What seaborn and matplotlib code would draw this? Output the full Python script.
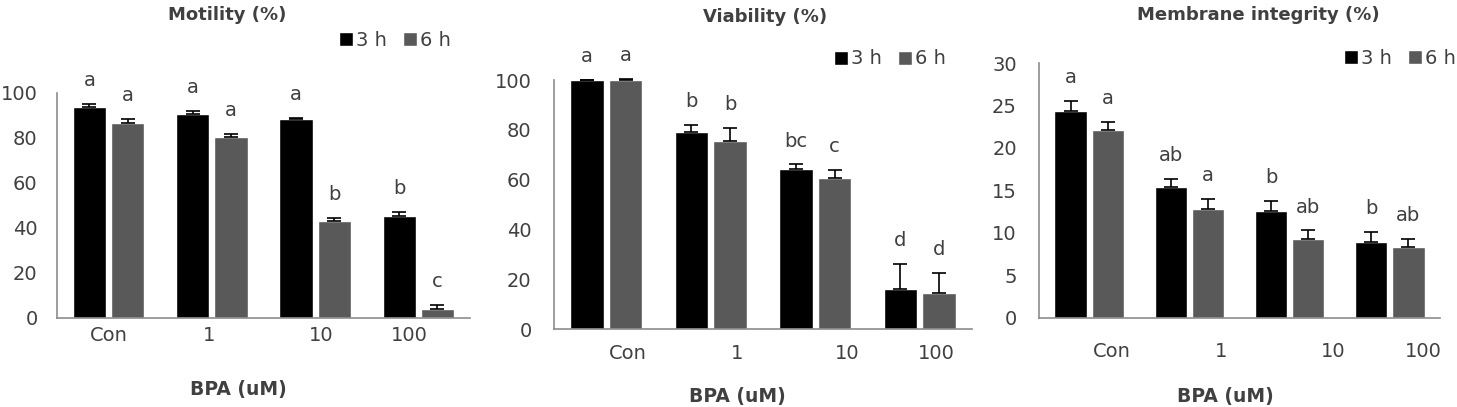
import numpy as np
import pandas as pd
import seaborn as sns
import matplotlib.pyplot as plt

# データ
doses = ["Con", "1", "10", "100"]
times = ["3 h", "6 h"]

motility_3h = [93.8, 90.7, 88.4, 45.5]
motility_6h = [86.7, 80.4, 43.1, 3.8]
motility_err_3h = [1.3, 1.4, 0.6, 1.5]
motility_err_6h = [1.7, 1.5, 1.3, 2.0]
motility_let_3h = ["a", "a", "a", "b"]
motility_let_6h = ["a", "a", "b", "c"]

viability_3h = [100, 79.2, 64.1, 16.1]
viability_6h = [100, 75.5, 60.5, 14.6]
viability_err_3h = [0, 2.7, 2.0, 9.9]
viability_err_6h = [0.3, 5.1, 3.4, 7.8]
viability_let_3h = ["a", "b", "bc", "d"]
viability_let_6h = ["a", "b", "c", "d"]

membrane_3h = [24.4, 15.4, 12.6, 8.9]
membrane_6h = [22.1, 12.8, 9.3, 8.3]
membrane_err_3h = [1.1, 1.0, 1.2, 1.2]
membrane_err_6h = [1.0, 1.2, 1.0, 1.0]
membrane_let_3h = ["a", "ab", "b", "b"]
membrane_let_6h = ["a", "a", "ab", "ab"]

sns.set_style("white")
plt.rcParams['font.family'] = ['DejaVu Sans']
txt = "#404040"
fs = 14

fig = plt.figure(figsize=(14.57, 4.07), dpi=100)

panels = [
    dict(title="Motility (%)", v3=motility_3h, v6=motility_6h, e3=motility_err_3h, e6=motility_err_6h,
         l3=motility_let_3h, l6=motility_let_6h, ymax=100, step=20,
         rect=[0.0391, 0.2187, 0.2835, 0.5528], title_xy=(227, 15), leg_xy=(395, 40),
         tick_off=[0.0, -0.03, 0.06, -0.09], xpad=6, ypad=14, xlab=(0.438, -0.276)),
    dict(title="Viability (%)", v3=viability_3h, v6=viability_6h, e3=viability_err_3h, e6=viability_err_6h,
         l3=viability_let_3h, l6=viability_let_6h, ymax=100, step=20,
         rect=[0.3802, 0.1916, 0.2869, 0.6118], title_xy=(765, 17), leg_xy=(890, 59),
         tick_off=[0.21, 0.25, 0.31, 0.16], xpad=11, ypad=16, xlab=(0.438, -0.233)),
    dict(title="Membrane integrity (%)", v3=membrane_3h, v6=membrane_6h, e3=membrane_err_3h, e6=membrane_err_6h,
         l3=membrane_let_3h, l6=membrane_let_6h, ymax=30, step=5,
         rect=[0.7131, 0.2187, 0.2752, 0.6265], title_xy=(1258, 15), leg_xy=(1400, 58),
         tick_off=[0.23, 0.32, 0.43, 0.33], xpad=17, ypad=16, xlab=(0.464, -0.271)),
]

W, H = 1457, 407
for p in panels:
    ax = fig.add_axes(p["rect"])
    df = pd.DataFrame({
        "dose": doses * 2,
        "time": [times[0]] * 4 + [times[1]] * 4,
        "value": p["v3"] + p["v6"],
    })
    sns.barplot(data=df, x="dose", y="value", hue="time", order=doses, hue_order=times,
                palette=["#000000", "#595959"], width=0.74, gap=0.13, errorbar=None,
                saturation=1, ax=ax)
    # 誤差棒（上側のみ）と有意差の文字
    for cont, err, lets in zip(ax.containers, [p["e3"], p["e6"]], [p["l3"], p["l6"]]):
        xs = [b.get_x() + b.get_width() / 2 for b in cont]
        hs = [b.get_height() for b in cont]
        ax.errorbar(xs, hs, yerr=[np.zeros(len(err)), err], fmt="none", ecolor="black",
                    elinewidth=1.2, capsize=4.7, capthick=1.2, clip_on=False)
        for x, h, e, l in zip(xs, hs, err, lets):
            ax.annotate(l, (x, h + e), xytext=(0, 10), textcoords="offset points",
                        ha="center", va="bottom", fontsize=fs, color=txt, annotation_clip=False)

    handles, labels = ax.get_legend_handles_labels()
    ax.get_legend().remove()
    ax.legend(handles, labels, loc="center", bbox_to_anchor=(p["leg_xy"][0] / W, 1 - p["leg_xy"][1] / H),
              bbox_transform=fig.transFigure, ncol=2, frameon=False, fontsize=fs,
              handlelength=0.75, handleheight=0.75, handletextpad=0.15, columnspacing=0.8,
              labelcolor=txt, borderaxespad=0, borderpad=0)

    ax.set_ylim(0, p["ymax"])
    ax.set_yticks(np.arange(0, p["ymax"] + 1, p["step"]))
    ax.set_xlim(-0.5, 3.5)
    ax.set_xticks(np.arange(4) + np.array(p["tick_off"]))
    ax.set_xticklabels(doses)
    ax.tick_params(axis="x", length=0, pad=p["xpad"], labelsize=fs, labelcolor=txt)
    ax.tick_params(axis="y", length=0, pad=p["ypad"], labelsize=fs, labelcolor=txt)
    ax.set_ylabel("")
    ax.set_xlabel("BPA (uM)", fontsize=13.5, fontweight="bold", color=txt)
    ax.xaxis.set_label_coords(*p["xlab"])
    sns.despine(ax=ax)
    for s in ["left", "bottom"]:
        ax.spines[s].set_color("#8c8c8c")
        ax.spines[s].set_linewidth(1.2)
    fig.text(p["title_xy"][0] / W, 1 - p["title_xy"][1] / H, p["title"], ha="center", va="center",
             fontsize=13, fontweight="bold", color=txt)

fig.savefig("out.png", dpi=100)
